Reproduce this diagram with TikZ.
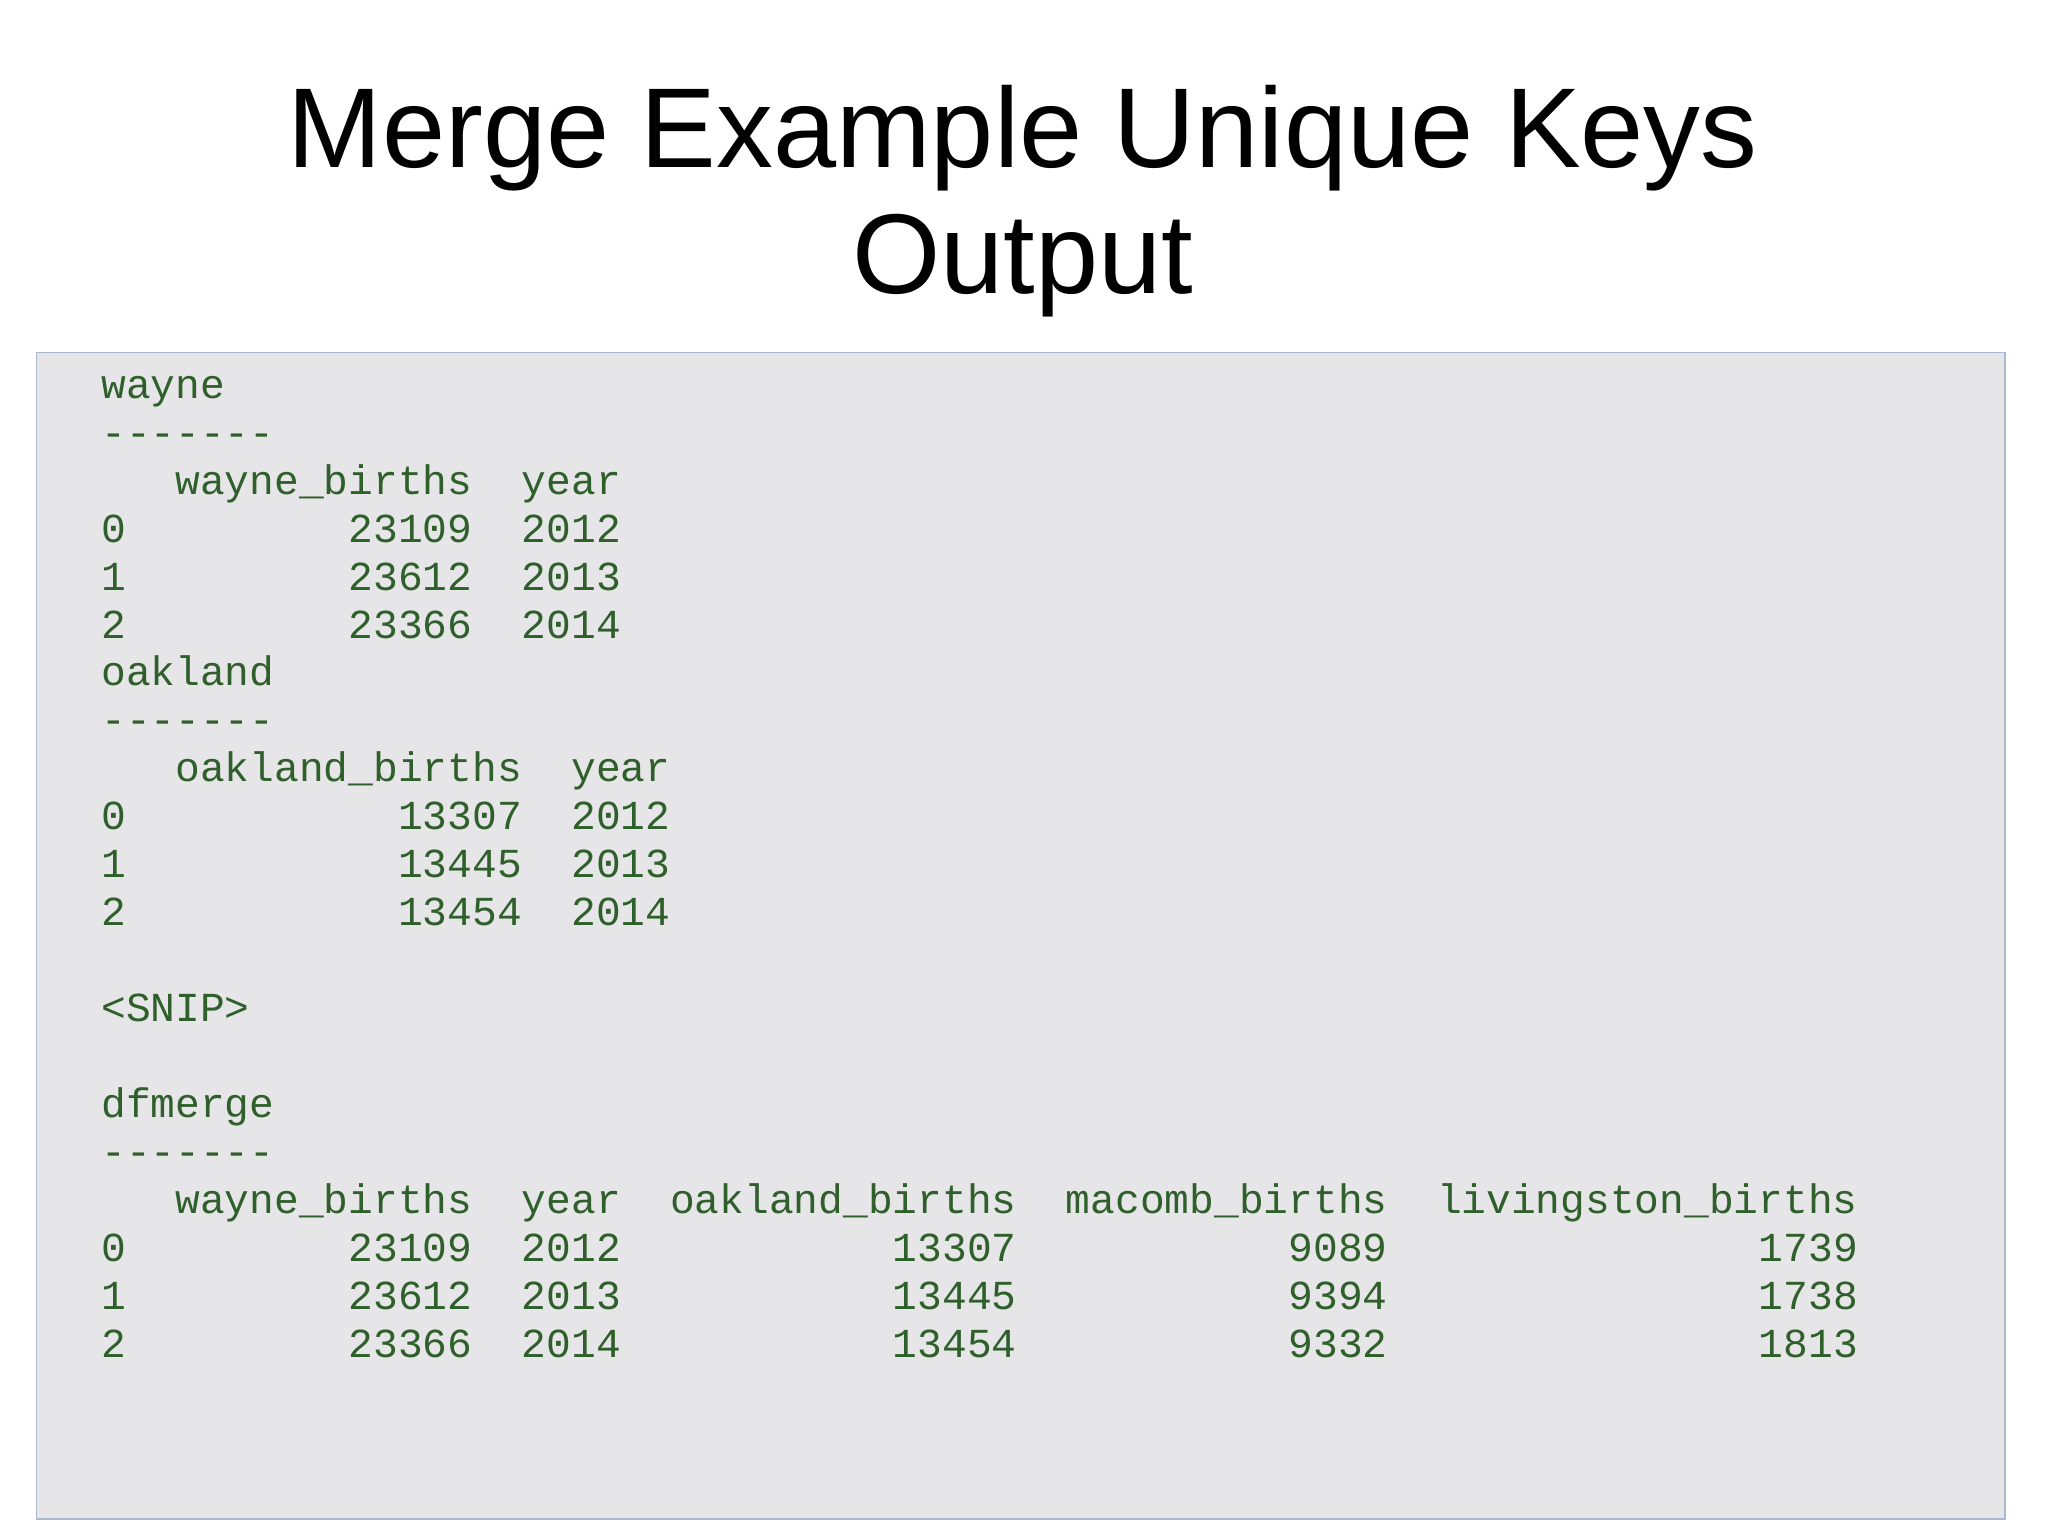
\documentclass[tikz,border=0pt]{standalone}
\usepackage{fontspec}
\setmainfont{Liberation Sans}
\newfontfamily\codefont{Liberation Mono}
\definecolor{codegreen}{HTML}{2F5F2B}
\definecolor{panelgray}{HTML}{E6E5E7}
\definecolor{panelline}{HTML}{AAB9CC}

\begin{document}
\begin{tikzpicture}[x=0.01306cm, y=-0.01306cm,
    titletext/.style={font=\fontsize{32.3}{36}\selectfont, anchor=base},
    codeline/.style={font=\codefont\fontsize{11.73}{13}\selectfont, text=codegreen, anchor=base west, inner sep=0pt}]
    \useasboundingbox (0,0) rectangle (1568,1175);
    \draw[panelline, fill=panelgray] (28,270) rectangle (1535,1163);

    \node[titletext] (title1) at (783,128) {Merge Example Unique Keys};
    \node[titletext] (title2) at (783,225) {Output};

    \foreach \txt [count=\i from 0] in {
        wayne,
        -------,
        ~~~wayne\_births~~year,
        0~~~~~~~~~23109~~2012,
        1~~~~~~~~~23612~~2013,
        2~~~~~~~~~23366~~2014,
        oakland,
        -------,
        ~~~oakland\_births~~year,
        0~~~~~~~~~~~13307~~2012,
        1~~~~~~~~~~~13445~~2013,
        2~~~~~~~~~~~13454~~2014,
        {},
        <SNIP>,
        {},
        dfmerge,
        -------,
        ~~~wayne\_births~~year~~oakland\_births~~macomb\_births~~livingston\_births,
        0~~~~~~~~~23109~~2012~~~~~~~~~~~13307~~~~~~~~~~~9089~~~~~~~~~~~~~~~1739,
        1~~~~~~~~~23612~~2013~~~~~~~~~~~13445~~~~~~~~~~~9394~~~~~~~~~~~~~~~1738,
        2~~~~~~~~~23366~~2014~~~~~~~~~~~13454~~~~~~~~~~~9332~~~~~~~~~~~~~~~1813}
        \node[codeline] (line\i) at (77,305+36.7*\i) {\txt};
\end{tikzpicture}
\end{document}
